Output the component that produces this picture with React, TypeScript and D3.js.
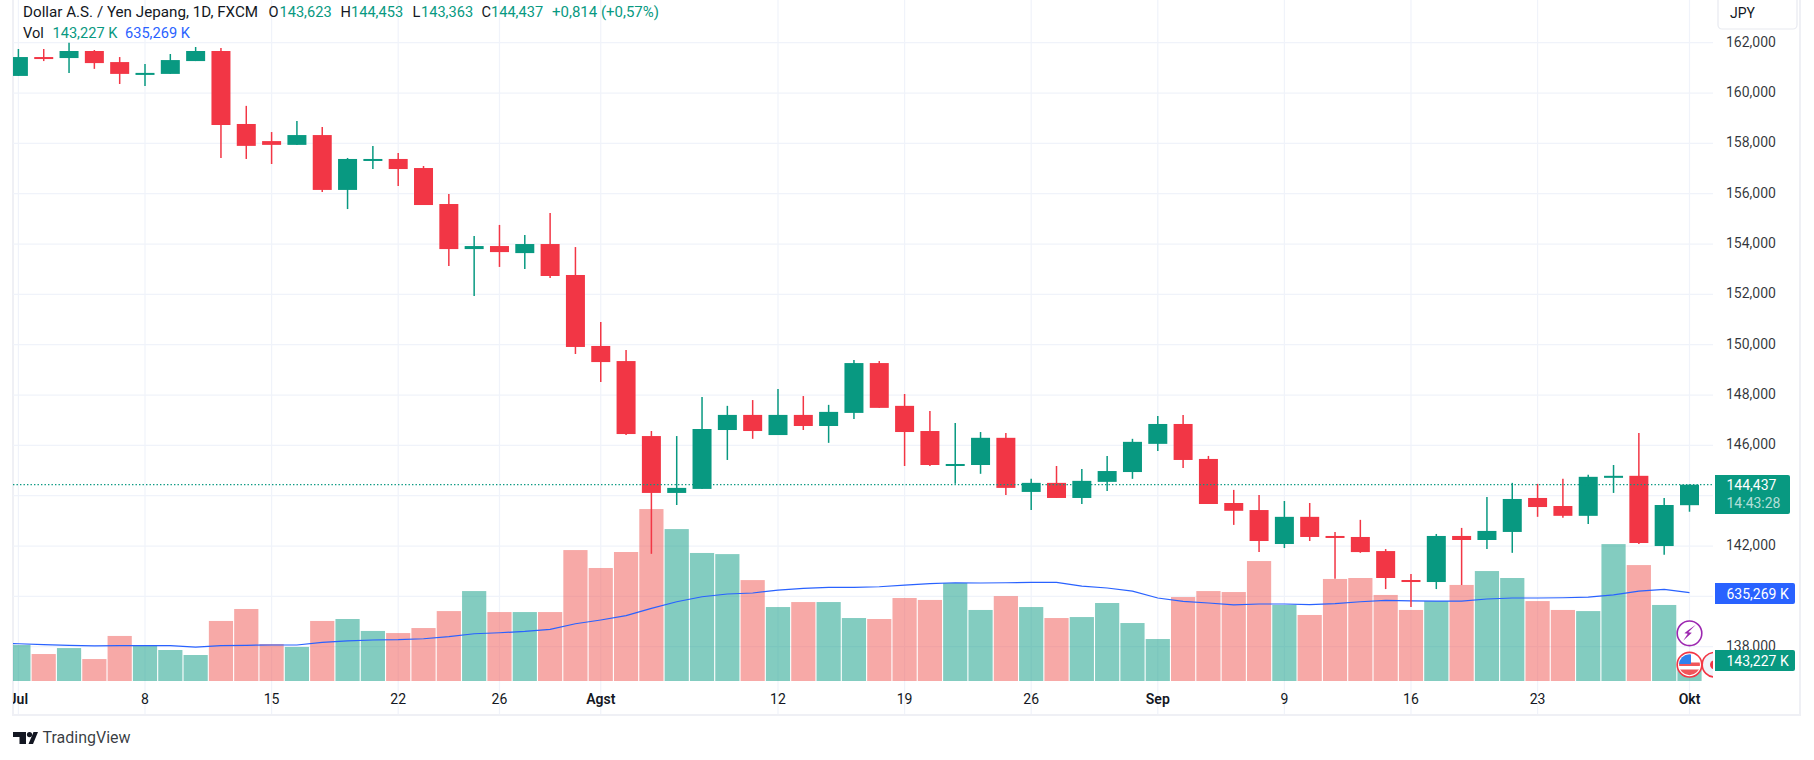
import * as d3 from 'd3'

const opens = [160.68, 161.43, 161.39, 161.67, 161.23, 160.72, 160.76, 161.27, 161.67, 158.77, 158.09, 157.94, 158.33, 156.15, 157.34, 157.38, 157.02, 155.59, 153.8, 153.92, 153.64, 154.0, 152.77, 149.95, 149.35, 146.37, 144.11, 144.27, 146.61, 147.21, 146.41, 147.21, 146.77, 147.29, 149.27, 147.57, 146.57, 145.22, 145.22, 146.3, 144.15, 144.51, 143.91, 144.55, 144.94, 146.06, 146.85, 145.46, 143.71, 143.43, 142.08, 143.16, 142.4, 142.36, 141.8, 140.65, 140.57, 142.4, 142.24, 142.56, 143.91, 143.59, 143.2, 144.71, 144.79, 142.0, 143.623]
const highs = [161.75, 161.75, 162.0, 161.71, 161.43, 161.15, 161.55, 161.83, 161.79, 159.49, 158.45, 158.89, 158.65, 157.42, 157.9, 157.62, 157.1, 155.99, 154.32, 154.76, 154.36, 155.23, 153.88, 150.9, 149.79, 146.57, 146.37, 147.92, 147.57, 147.8, 148.24, 147.96, 147.61, 149.39, 149.35, 148.04, 147.37, 146.89, 146.53, 146.49, 144.67, 145.18, 145.06, 145.58, 146.26, 147.17, 147.21, 145.58, 144.23, 144.03, 143.79, 143.71, 142.56, 143.04, 141.88, 140.89, 142.48, 142.72, 143.95, 144.51, 144.47, 144.67, 144.83, 145.22, 146.49, 143.91, 144.453]
const lows = [160.68, 161.27, 160.8, 160.96, 160.36, 160.28, 160.76, 161.27, 157.42, 157.38, 157.18, 157.94, 156.07, 155.39, 156.98, 156.31, 155.55, 153.13, 151.94, 153.09, 153.01, 152.65, 149.63, 148.52, 146.41, 141.69, 143.63, 144.27, 145.42, 146.26, 146.41, 146.61, 146.1, 147.05, 147.49, 145.18, 145.18, 144.47, 144.87, 144.03, 143.43, 143.91, 143.67, 144.19, 144.67, 145.78, 145.1, 143.67, 142.84, 141.76, 141.92, 142.2, 140.7, 141.73, 140.29, 139.58, 140.29, 140.45, 141.88, 141.73, 143.16, 143.12, 142.88, 144.11, 142.08, 141.65, 143.363]
const closes = [161.43, 161.39, 161.67, 161.19, 160.76, 160.8, 161.31, 161.67, 158.73, 157.9, 157.94, 158.33, 156.15, 157.38, 157.38, 156.98, 155.55, 153.8, 153.92, 153.68, 154.0, 152.73, 149.91, 149.31, 146.45, 144.11, 144.31, 146.65, 147.21, 146.57, 147.21, 146.77, 147.33, 149.27, 147.49, 146.53, 145.22, 145.26, 146.3, 144.31, 144.51, 143.91, 144.59, 144.98, 146.14, 146.85, 145.42, 143.67, 143.4, 142.2, 143.16, 142.36, 142.32, 141.76, 140.73, 140.57, 142.4, 142.24, 142.6, 143.87, 143.55, 143.2, 144.75, 144.79, 142.12, 143.63, 144.437]
const volumes = [259, 194, 237, 158, 324, 259, 223, 187, 432, 518, 266, 245, 432, 446, 360, 345, 381, 503, 647, 496, 496, 496, 942, 813, 928, 1237, 1093, 921, 913, 726, 532, 568, 568, 453, 446, 597, 583, 705, 511, 611, 532, 453, 460, 561, 417, 302, 604, 647, 640, 863, 547, 475, 734, 741, 619, 511, 575, 691, 791, 741, 575, 511, 503, 985, 834, 547, 143.227]
// starts one bar before the first candle, the line runs in from off the pane
const volumeMa = [270, 268, 261, 257, 252, 254, 254, 254, 244, 254, 257, 259, 259, 278, 288, 295, 297, 304, 319, 340, 347, 357, 372, 412, 439, 470, 523, 570, 606, 626, 633, 654, 667, 674, 674, 678, 690, 700, 707, 705, 707, 710, 710, 683, 669, 647, 597, 573, 561, 547, 554, 554, 549, 556, 570, 580, 577, 575, 575, 590, 597, 597, 599, 604, 620, 647, 659, 635.269]

const priceTicks = [162, 160, 158, 156, 154, 152, 150, 148, 146, 144, 142, 140, 138]
const hiddenPriceLabels = [144, 140]
const timeTickIndex = [0, 5, 10, 15, 19, 23, 30, 35, 40, 45, 50, 55, 60, 66]
const timeTickLabels = ['Jul', '8', '15', '22', '26', 'Agst', '12', '19', '26', 'Sep', '9', '16', '23', 'Okt']
const monthLabels = ['Jul', 'Agst', 'Sep', 'Okt']

const lastPrice = 144.437
const lastVolume = 143.227
const lastVolumeMa = 635.269

const UP = '#089981'
const DOWN = '#f23645'
const UP_VOL = 'rgba(8,153,129,0.5)'
const DOWN_VOL = 'rgba(239,83,80,0.5)'
const BLUE = '#2962ff'
const GRID = '#f0f3fa'
const BORDER = '#eff0f5'
const TEXT = '#131722'
const FONT = 'Roboto, sans-serif'

const WIDTH = 1814
const HEIGHT = 760
const PLOT_LEFT = 13
const PLOT_RIGHT = 1713
const PLOT_BOTTOM = 681
const PANE_BOTTOM = 715

const xScale = d3.scaleLinear().domain([0, 66]).range([18.4, 1689.5])
const yScale = d3.scaleLinear().domain([138, 162]).range([646.7, 42.7])
const volScale = d3.scaleLinear().domain([0, 1000]).range([PLOT_BOTTOM, 542])

const maLine = d3
  .line<number>()
  .x((_, i) => xScale(i - 1))
  .y(d => volScale(d))

const fmtPrice = (v: number) => d3.format('.3f')(v).replace('.', ',')

// legend pieces: text, x, colour, size
const legendRow1: [string, number, string, number][] = [
  ['Dollar A.S. / Yen Jepang, 1D, FXCM', 23, TEXT, 15.2],
  ['O', 268.5, TEXT, 14.6],
  ['143,623', 279.5, UP, 14.6],
  ['H', 340.5, TEXT, 14.6],
  ['144,453', 351, UP, 14.6],
  ['L', 412.5, TEXT, 14.6],
  ['143,363', 421, UP, 14.6],
  ['C', 481.5, TEXT, 14.6],
  ['144,437', 491, UP, 14.6],
  ['+0,814 (+0,57%)', 552, UP, 15]
]
const legendRow2: [string, number, string, number][] = [
  ['Vol', 23, TEXT, 14.6],
  ['143,227 K', 52.5, UP, 14.6],
  ['635,269 K', 125, BLUE, 14.6]
]

function PriceTag({ y, h, w, fill, label }: { y: number; h: number; w: number; fill: string; label: string }) {
  return (
    <g>
      <path
        d={`M1715 ${y - h / 2}H${1715 + w - 2}a2 2 0 0 1 2 2V${y + h / 2 - 2}a2 2 0 0 1 -2 2H1715Z`}
        fill={fill}
      />
      <text x={1726.5} y={y + 5} fontSize={14} fill="#fff">
        {label}
      </text>
    </g>
  )
}

export default function App() {
  const n = closes.length
  const indices = d3.range(n)
  const bodyW = 19
  const volW = 24.2
  const lastY = yScale(lastPrice)
  const iconX = xScale(66)

  return (
    <svg
      width={WIDTH}
      height={HEIGHT}
      viewBox={`0 0 ${WIDTH} ${HEIGHT}`}
      style={{ position: 'absolute', left: 0, top: 0, background: '#fff', fontFamily: FONT }}
    >
      <defs>
        <clipPath id="plot">
          <rect x={PLOT_LEFT} y={0} width={PLOT_RIGHT - PLOT_LEFT} height={PANE_BOTTOM} />
        </clipPath>
        <clipPath id="usFlag">
          <circle cx={iconX} cy={664.7} r={10.5} />
        </clipPath>
      </defs>

      {/* pane borders */}
      <rect x={PLOT_LEFT - 1} y={0} width={2} height={PANE_BOTTOM + 1} fill={BORDER} />
      <rect x={PLOT_LEFT - 1} y={PANE_BOTTOM - 1} width={1789} height={2} fill={BORDER} />
      <rect x={1799} y={0} width={2} height={PANE_BOTTOM + 1} fill={BORDER} />

      {/* grid */}
      <g stroke={GRID} strokeWidth={1.2}>
        {priceTicks.map(t => (
          <line key={t} x1={PLOT_LEFT} x2={PLOT_RIGHT} y1={yScale(t)} y2={yScale(t)} />
        ))}
        {timeTickIndex.map(i => (
          <line key={i} x1={xScale(i)} x2={xScale(i)} y1={0} y2={PANE_BOTTOM - 1} />
        ))}
      </g>

      <g clipPath="url(#plot)">
        {/* volume */}
        {indices.map(i => (
          <rect
            key={i}
            x={xScale(i) - volW / 2}
            y={volScale(volumes[i])}
            width={volW}
            height={PLOT_BOTTOM - volScale(volumes[i])}
            fill={closes[i] >= opens[i] ? UP_VOL : DOWN_VOL}
          />
        ))}
        <path d={maLine(volumeMa) || ''} fill="none" stroke={BLUE} strokeWidth={1.2} />

        {/* candles */}
        {indices.map(i => {
          const up = closes[i] >= opens[i]
          const color = up ? UP : DOWN
          const top = yScale(Math.max(opens[i], closes[i]))
          const bottom = yScale(Math.min(opens[i], closes[i]))
          return (
            <g key={i}>
              <line x1={xScale(i)} x2={xScale(i)} y1={yScale(highs[i])} y2={yScale(lows[i])} stroke={color} strokeWidth={1.5} />
              <rect x={xScale(i) - bodyW / 2} y={top} width={bodyW} height={Math.max(bottom - top, 2)} fill={color} />
            </g>
          )
        })}

        {/* last price line */}
        <line x1={PLOT_LEFT} x2={PLOT_RIGHT} y1={lastY} y2={lastY} stroke={UP} strokeWidth={1.3} strokeDasharray="1.4 2.1" />

        {/* event icons */}
        <circle cx={iconX} cy={633.3} r={12.3} fill="#fff" stroke="#9c27b0" strokeWidth={1.6} />
        <path
          transform={`translate(${iconX},633.3) scale(1.15)`}
          d="M5.5 -7.5 L-1 -1 L2 -0.5 L-5.5 6.5 L-1.5 0.5 L-4.5 0 L-1.5 -2.5 Z"
          fill="#9c27b0"
        />
        <circle cx={iconX} cy={664.7} r={12.3} fill="#fff" stroke={DOWN} strokeWidth={1.6} />
        <g clipPath="url(#usFlag)">
          <rect x={iconX - 11} y={654} width={22} height={22} fill="#fff" />
          <rect x={iconX - 11} y={662.5} width={22} height={3.5} fill="#f0555a" />
          <rect x={iconX - 11} y={669.5} width={22} height={7} fill="#f0555a" />
          <rect x={iconX - 11} y={654} width={12.5} height={10} fill="#2f80ed" />
        </g>
        <circle cx={1714.5} cy={664.7} r={12.3} fill="#f0f3fa" stroke={DOWN} strokeWidth={1.6} />
        <circle cx={1714.5} cy={664.7} r={4.5} fill={DOWN} />
      </g>

      {/* time axis */}
      <g clipPath="url(#plot)" fontSize={14} textAnchor="middle">
        {timeTickIndex.map((idx, i) => {
          const isMonth = monthLabels.includes(timeTickLabels[i])
          return (
            <text key={idx} x={xScale(idx)} y={704} fill={TEXT} fontWeight={isMonth ? 600 : 400}>
              {timeTickLabels[i]}
            </text>
          )
        })}
      </g>

      {/* price axis */}
      <g fontSize={14} fill={TEXT} fillOpacity={0.88} textAnchor="start">
        {priceTicks
          .filter(t => !hiddenPriceLabels.includes(t))
          .map(t => (
            <text key={t} x={1726} y={yScale(t) + 4}>
              {fmtPrice(t)}
            </text>
          ))}
      </g>
      <rect x={1718} y={-4} width={79} height={33} rx={4} fill="#fff" stroke="#e8eaf0" strokeWidth={1.2} />
      <text x={1730} y={18} fontSize={14} fill={TEXT}>
        JPY
      </text>

      {/* price tags */}
      <path d="M1715 475H1788a2 2 0 0 1 2 2V512a2 2 0 0 1 -2 2H1715Z" fill={UP} />
      <text x={1726.5} y={490} fontSize={14} fill="#fff">
        {fmtPrice(lastPrice)}
      </text>
      <text x={1726.5} y={507.5} fontSize={14} fill="#fff" fillOpacity={0.7}>
        14:43:28
      </text>
      <PriceTag y={593.5} h={21} w={80} fill={BLUE} label={`${fmtPrice(lastVolumeMa)} K`} />
      <PriceTag y={660.5} h={21} w={80} fill={UP} label={`${fmtPrice(lastVolume)} K`} />

      {/* legend */}
      <g>
        {legendRow1.map(([t, x, c, s]) => (
          <text key={t} x={x} y={16.5} fill={c} fontSize={s}>
            {t}
          </text>
        ))}
        {legendRow2.map(([t, x, c, s]) => (
          <text key={t} x={x} y={37.5} fill={c} fontSize={s}>
            {t}
          </text>
        ))}
      </g>

      {/* attribution */}
      <g fill={TEXT}>
        <path d="M13 732H26V744H19.5V737H13Z" />
        <circle cx={29.5} cy={734.6} r={2.6} />
        <path d="M28.5 744L33.5 732H38L33 744Z" />
      </g>
      <text x={42.5} y={743} fontSize={16} fill={TEXT} fillOpacity={0.85}>
        TradingView
      </text>
    </svg>
  )
}
